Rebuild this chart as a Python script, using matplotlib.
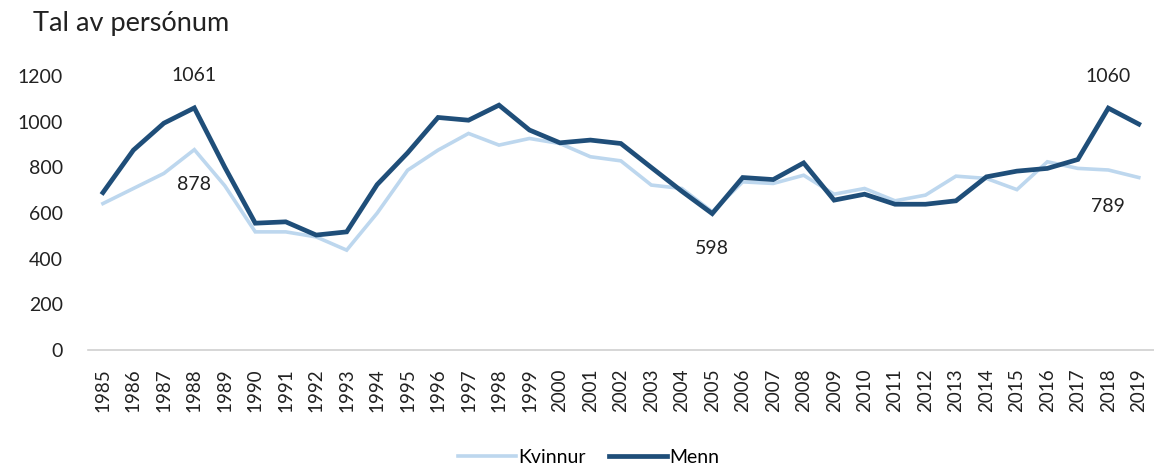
import matplotlib.pyplot as plt

plt.rcParams['font.family'] = ['Lato', 'DejaVu Sans']

years = list(range(1985, 2020))
kvinnur = [642, 708, 774, 878, 720, 518, 518, 496, 438, 600,
           788, 876, 949, 898, 927, 905, 847, 829, 723, 708,
           606, 737, 730, 766, 683, 708, 654, 679, 762, 752,
           703, 825, 796, 789, 756]
menn = [690, 876, 994, 1061, 801, 556, 562, 504, 518, 725,
        864, 1019, 1007, 1073, 964, 908, 920, 905, 800, 696,
        598, 756, 747, 820, 657, 683, 639, 639, 654, 759,
        784, 796, 835, 1060, 990]

light = '#bdd7ee'
dark = '#1f4e79'
txt = '#222222'
fs = 14

fig = plt.figure(figsize=(11.54, 4.70), dpi=100)
ax = fig.add_axes([0.076, 0.255, 0.924, 0.583])

x = list(range(len(years)))
ax.plot(x, kvinnur, color=light, lw=2.6, label='Kvinnur', solid_joinstyle='miter')
ax.plot(x, menn, color=dark, lw=3.4, label='Menn', solid_joinstyle='miter')

ax.set_xlim(-0.5, len(years) - 0.5)
ax.set_ylim(0, 1200)
ax.set_yticks(range(0, 1201, 200))
ax.set_xticks(x)
ax.set_xticklabels([str(y) for y in years], rotation=90)
ax.tick_params(axis='both', length=0, labelsize=fs, colors=txt)
ax.tick_params(axis='y', pad=18)
ax.tick_params(axis='x', pad=13, labelsize=13.5)

for s in ['top', 'right', 'left']:
    ax.spines[s].set_visible(False)
ax.spines['bottom'].set_color('#d0d0d0')
ax.spines['bottom'].set_linewidth(1.2)

# value labels
i88 = years.index(1988)
i05 = years.index(2005)
i18 = years.index(2018)
labels = [(i88, menn[i88], 23), (i88, kvinnur[i88], -25),
          (i05, menn[i05], -25), (i18, menn[i18], 23), (i18, kvinnur[i18], -26.5)]
for i, v, off in labels:
    ax.annotate(str(v), (i, v), xytext=(0, off), textcoords='offset points',
                ha='center', va='center', fontsize=fs, color=txt)

fig.text(0.0286, 0.949, 'Tal av persónum', fontsize=19.5, color=txt, va='center')

fig.legend(loc='center', bbox_to_anchor=(0.51, 0.027), ncol=2, frameon=False,
           fontsize=fs, handlelength=3.0, columnspacing=1.2, handletextpad=0.1)

fig.savefig('out.png', dpi=100)
